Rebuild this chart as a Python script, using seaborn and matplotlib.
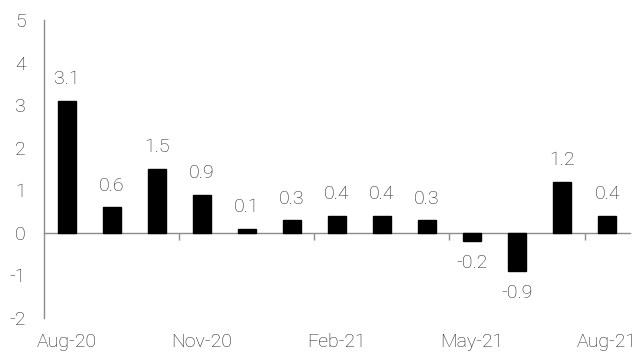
import matplotlib
matplotlib.use("Agg")
import matplotlib.pyplot as plt
import seaborn as sns
import pandas as pd

months = ["Aug-20", "Sep-20", "Oct-20", "Nov-20", "Dec-20", "Jan-21", "Feb-21",
          "Mar-21", "Apr-21", "May-21", "Jun-21", "Jul-21", "Aug-21"]
values = [3.1, 0.6, 1.5, 0.9, 0.1, 0.3, 0.4, 0.4, 0.3, -0.2, -0.9, 1.2, 0.4]
shown_ticks = ["Aug-20", "Nov-20", "Feb-21", "May-21", "Aug-21"]
y_ticks = [-2, -1, 0, 1, 2, 3, 4, 5]

sns.set_style("white")
plt.rcParams["font.family"] = ["Roboto", "DejaVu Sans"]
plt.rcParams["font.weight"] = "light"

text_color = "#262626"
axis_color = "#8c8c8c"
fs = 14

df = pd.DataFrame({"month": months, "value": values})

fig = plt.figure(figsize=(6.38, 3.58), dpi=100)
ax = fig.add_axes([0.069, 0.112, 0.918, 0.832])

sns.barplot(data=df, x="month", y="value", color="black", saturation=1,
            width=0.4, ax=ax, edgecolor="black")

ax.set_xlim(-0.5, len(months) - 0.5)
ax.set_ylim(min(y_ticks), max(y_ticks))
ax.set_yticks(y_ticks)
ax.set_yticklabels([str(t) for t in y_ticks])
ax.set_xlabel("")
ax.set_ylabel("")

# category labels every third month along the bottom
tick_pos = [months.index(m) for m in shown_ticks]
ax.set_xticks(tick_pos)
ax.set_xticklabels(shown_ticks)
ax.tick_params(axis="x", length=0, pad=11, labelsize=fs, labelcolor=text_color)
ax.tick_params(axis="y", length=5, width=1, color=axis_color, direction="out",
               labelsize=fs, labelcolor=text_color, pad=8)

for side in ["top", "right", "bottom"]:
    ax.spines[side].set_visible(False)
ax.spines["left"].set_color(axis_color)
ax.spines["left"].set_linewidth(1)

# zero line with boundary ticks between quarters
ymin, ymax = ax.get_ylim()
zero_frac = (0 - ymin) / (ymax - ymin)
sec = ax.secondary_xaxis(zero_frac)
sec.set_xticks([p + 2.5 for p in tick_pos[:-1]])
sec.set_xticklabels([])
sec.tick_params(axis="x", length=5, width=1, color=axis_color, direction="out")
sec.spines["bottom"].set_color(axis_color)
sec.spines["bottom"].set_linewidth(1)
for side in ["top", "left", "right"]:
    sec.spines[side].set_visible(False)

# value labels
for i, v in enumerate(values):
    ax.annotate(f"{v:.1f}", xy=(i, v), xytext=(0, 9 if v >= 0 else -9),
                textcoords="offset points", ha="center",
                va="bottom" if v >= 0 else "top",
                fontsize=fs, color=text_color)

fig.savefig("out.png", dpi=100)
